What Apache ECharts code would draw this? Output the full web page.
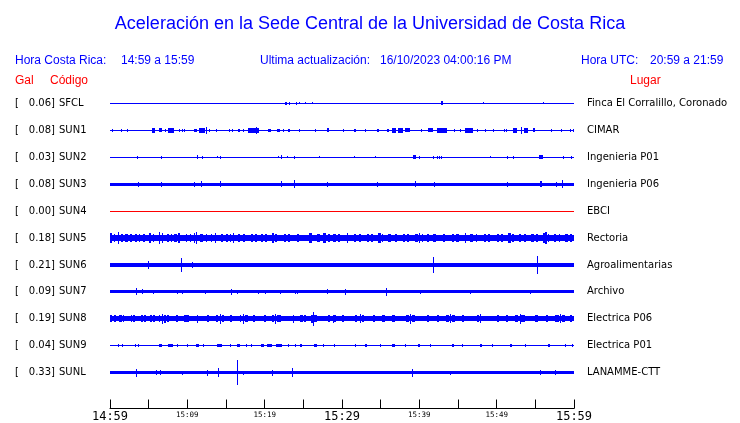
<!DOCTYPE html>
<html><head><meta charset="utf-8">
<script src="https://cdn.jsdelivr.net/npm/echarts@6/dist/echarts.min.js"></script>
<style>html,body{margin:0;padding:0;background:#fff}#c{width:740px;height:423px}</style>
</head><body><div id="c"></div>
<script>
// ---------------- DATA ----------------
const titleText = 'Aceleración en la Sede Central de la Universidad de Costa Rica';
const codes = ['SFCL','SUN1','SUN2','SUN3','SUN4','SUN5','SUN6','SUN7','SUN8','SUN9','SUNL'];
const peakGal = ['0.06','0.08','0.03','0.08','0.00','0.18','0.21','0.09','0.19','0.04','0.33'];
const places = ['Finca El Corralillo, Coronado','CIMAR','Ingenieria P01','Ingenieria P06','EBCI','Rectoria','Agroalimentarias','Archivo','Electrica P06','Electrica P01','LANAMME-CTT'];
// half-thickness of the background trace (Gal)
const baseGal = [0.0125,0.0125,0.0125,0.042,0.0125,0.08,0.042,0.042,0.068,0.0125,0.042];
// bursts: [startMinute, endMinute, halfAmplitudeGal]  (minutes after 14:59)
const bSFCL = [[22.6,22.9,0.03],[23.15,23.15,0.03],[24.0,24.2,0.03],[24.44,24.44,0.025],[25.2,25.2,0.025],[26.1,26.1,0.025],[26.9,26.9,0.02],[42.8,43.1,0.05],[48.23,48.23,0.025],[51.21,51.21,0.02],[55.99,55.99,0.025]];
const bSUN1 = [[0.26,0.26,0.035],[1.42,1.42,0.035],[2.2,2.2,0.035],[5.43,5.82,0.06],[6.34,6.72,0.05],[7.11,7.11,0.035],[7.5,8.28,0.06],[8.92,8.92,0.035],[9.31,9.31,0.03],[9.57,9.57,0.035],[10.86,11.25,0.045],[11.51,12.29,0.06],[12.41,12.41,0.09],[12.8,12.8,0.04],[13.71,13.71,0.035],[15.39,15.39,0.035],[15.78,15.78,0.035],[16.55,16.81,0.03],[17.2,17.33,0.035],[17.85,19.27,0.06],[18.9,18.9,0.08],[20.43,20.82,0.045],[21.6,21.98,0.045],[22.37,22.37,0.03],[23.02,23.28,0.04],[24.44,24.44,0.03],[26.5,26.7,0.04],[28.0,28.3,0.05],[30.1,30.1,0.035],[31.5,31.8,0.04],[33.0,33.0,0.035],[34.5,34.8,0.045],[35.82,35.82,0.035],[35.95,35.95,0.035],[36.47,36.98,0.06],[37.24,37.89,0.06],[38.15,38.79,0.05],[40.22,40.22,0.03],[41.12,41.77,0.05],[42.29,43.58,0.06],[44.49,44.49,0.035],[45.26,45.26,0.03],[45.91,46.94,0.06],[47.46,47.46,0.035],[48.49,48.49,0.035],[49.53,49.53,0.035],[50.95,50.95,0.035],[51.21,51.21,0.035],[52.11,52.63,0.06],[53.15,53.15,0.09],[53.54,54.06,0.07],[54.7,54.96,0.05],[57.03,57.03,0.03],[58.32,58.32,0.035],[59.48,59.48,0.035],[59.87,59.87,0.035]];
const bSUN2 = [[3.49,3.49,0.035],[6.6,6.6,0.035],[11.25,11.25,0.05],[11.9,11.9,0.035],[13.84,13.84,0.03],[14.22,14.22,0.035],[21.72,21.72,0.03],[22.11,22.11,0.05],[22.89,22.89,0.03],[23.79,23.79,0.035],[27.0,27.0,0.03],[31.5,31.5,0.03],[34.3,34.3,0.03],[39.18,39.57,0.05],[39.96,39.96,0.035],[41.77,41.77,0.035],[42.29,42.29,0.035],[42.55,42.55,0.035],[42.8,42.8,0.035],[49.14,49.14,0.03],[51.34,51.34,0.035],[52.11,52.11,0.035],[55.48,55.99,0.05],[58.58,58.58,0.035],[59.61,59.61,0.035]];
const bSUN3 = [[3.62,3.62,0.065],[6.6,6.6,0.065],[10.86,10.86,0.06],[11.77,11.77,0.07],[14.22,14.22,0.075],[22.11,22.11,0.075],[23.79,23.79,0.1],[28.0,28.0,0.06],[34.5,34.5,0.065],[39.44,39.44,0.075],[41.9,41.9,0.065],[51.34,51.34,0.06],[55.6,55.86,0.075],[57.67,57.67,0.06],[58.45,58.45,0.1]];
const bSUN4 = [];
const bSUN5 = [[0.0,0.3,0.12],[0.5,0.7,0.1],[1.08,1.08,0.15],[1.4,1.7,0.1],[2.0,2.3,0.11],[2.6,2.8,0.1],[3.2,3.5,0.1],[3.8,3.9,0.11],[4.3,4.5,0.1],[5.0,5.3,0.12],[5.5,5.7,0.11],[6.3,6.5,0.14],[6.7,6.9,0.12],[7.4,7.6,0.1],[7.9,8.0,0.11],[8.3,8.6,0.11],[8.8,9.1,0.13],[9.8,10.0,0.1],[10.3,10.4,0.1],[10.8,11.0,0.12],[11.1,11.3,0.15],[11.7,12.0,0.1],[12.4,12.6,0.1],[13.0,13.2,0.1],[13.58,13.58,0.13],[14.3,14.6,0.1],[15.0,15.2,0.1],[15.5,15.7,0.1],[15.86,15.86,0.13],[16.5,16.8,0.1],[17.2,17.5,0.1],[18.2,18.5,0.1],[18.8,19.0,0.1],[19.5,19.8,0.1],[20.1,20.3,0.1],[21.0,21.2,0.13],[21.3,21.6,0.11],[22.5,22.8,0.1],[23.0,23.3,0.1],[24.2,24.5,0.1],[25.7,26.1,0.12],[26.8,27.1,0.1],[27.6,27.9,0.12],[28.2,28.4,0.1],[28.9,29.2,0.1],[29.5,29.7,0.1],[30.61,30.61,0.12],[31.5,31.8,0.1],[32.2,32.4,0.1],[33.2,33.5,0.1],[33.8,34.0,0.1],[34.7,35.0,0.12],[35.2,35.3,0.11],[36.0,36.3,0.1],[36.8,37.1,0.1],[37.9,38.2,0.1],[38.4,38.6,0.1],[39.5,39.8,0.11],[40.0,40.1,0.13],[40.3,40.4,0.1],[41.0,41.3,0.1],[41.8,42.1,0.1],[43.0,43.3,0.1],[44.2,44.5,0.11],[44.8,45.1,0.1],[45.9,45.9,0.13],[46.6,46.9,0.1],[47.3,47.5,0.1],[48.3,48.6,0.1],[48.9,49.2,0.1],[50.0,50.3,0.1],[50.6,50.8,0.1],[51.5,51.8,0.12],[52.0,52.2,0.11],[52.9,53.2,0.1],[53.5,53.8,0.1],[54.5,54.8,0.1],[55.1,55.3,0.1],[56.0,56.2,0.12],[56.3,56.5,0.14],[56.6,56.7,0.11],[57.4,57.7,0.1],[58.0,58.2,0.1],[58.9,59.2,0.11],[59.5,59.8,0.1]];
const bSUN6 = [[1.68,1.68,0.06],[2.59,2.59,0.05],[4.91,4.91,0.1],[9.18,9.18,0.17],[10.6,10.6,0.07],[12.29,12.29,0.05],[12.67,12.67,0.05],[13.58,13.58,0.05],[17.72,17.72,0.05],[18.49,18.49,0.05],[19.0,19.0,0.05],[22.24,22.24,0.05],[23.54,23.54,0.05],[26.12,26.12,0.05],[27.16,27.16,0.05],[38.8,38.8,0.06],[41.77,41.77,0.21],[53.0,53.0,0.05],[55.2,55.2,0.23],[57.5,57.5,0.05]];
const bSUN7 = [[3.36,3.36,0.09],[4.14,4.14,0.065],[5.56,5.56,0.055],[8.66,8.66,0.05],[9.31,9.31,0.05],[12.29,12.29,0.05],[15.65,15.65,0.07],[16.42,16.42,0.05],[19.14,19.14,0.05],[20.04,20.04,0.05],[21.98,21.98,0.05],[23.92,23.92,0.05],[24.18,24.18,0.05],[28.06,28.06,0.06],[30.39,30.39,0.07],[35.7,35.7,0.1],[40.1,40.1,0.05],[46.55,46.55,0.05],[54.3,54.3,0.05]];
const bSUN8 = [[0.0,0.3,0.09],[0.5,0.8,0.085],[1.2,1.5,0.085],[1.7,1.8,0.09],[2.7,2.9,0.09],[3.0,3.2,0.085],[4.0,4.3,0.085],[4.4,4.6,0.09],[5.2,5.4,0.09],[5.6,5.8,0.085],[6.3,6.5,0.09],[6.72,6.72,0.13],[7.0,7.2,0.1],[7.4,7.6,0.09],[8.5,8.8,0.085],[9.6,9.9,0.09],[10.0,10.2,0.085],[11.25,11.25,0.1],[12.5,12.8,0.085],[13.7,14.0,0.09],[14.22,14.22,0.13],[14.5,14.8,0.09],[15.5,15.8,0.085],[16.8,17.0,0.09],[17.2,17.2,0.13],[17.4,17.8,0.09],[18.5,18.8,0.085],[19.9,20.2,0.085],[21.0,21.2,0.09],[21.34,21.34,0.13],[21.6,22.1,0.09],[23.66,23.66,0.1],[24.6,24.9,0.085],[25.1,25.4,0.085],[26.0,26.2,0.1],[26.25,26.25,0.17],[26.4,26.8,0.09],[28.2,28.5,0.09],[28.84,28.84,0.1],[29.0,29.2,0.09],[30.0,30.3,0.085],[31.7,32.0,0.09],[32.3,32.3,0.11],[32.6,32.9,0.09],[34.0,34.3,0.085],[35.2,35.5,0.085],[36.5,36.8,0.085],[38.3,38.6,0.09],[38.8,38.8,0.13],[39.1,39.5,0.09],[41.0,41.3,0.085],[42.3,42.6,0.085],[43.4,43.8,0.09],[43.97,43.97,0.11],[44.2,44.6,0.09],[45.5,45.8,0.085],[47.5,47.7,0.09],[47.85,47.85,0.11],[50.0,50.3,0.085],[51.2,51.5,0.085],[52.4,52.8,0.09],[53.02,53.02,0.12],[53.2,53.6,0.09],[55.0,55.3,0.085],[56.4,56.7,0.085],[57.6,58.0,0.09],[58.19,58.19,0.11],[58.4,58.8,0.09],[59.5,59.8,0.085]];
const bSUN9 = [[1.03,1.03,0.035],[1.55,1.55,0.035],[3.23,3.23,0.035],[3.62,3.62,0.035],[6.34,6.72,0.04],[7.5,8.15,0.04],[8.66,8.66,0.035],[9.96,9.96,0.035],[11.12,11.51,0.04],[12.03,12.03,0.035],[13.84,14.48,0.04],[15.52,15.52,0.035],[16.42,16.81,0.04],[17.59,17.59,0.035],[18.23,18.23,0.035],[19.53,19.91,0.04],[20.3,20.95,0.04],[21.47,22.24,0.04],[23.02,23.02,0.035],[23.92,23.92,0.035],[24.57,24.83,0.04],[26.38,26.77,0.04],[27.54,27.54,0.035],[28.97,28.97,0.035],[31.68,31.68,0.035],[32.98,33.2,0.04],[34.91,34.91,0.035],[36.47,36.8,0.04],[38.15,38.15,0.035],[39.83,40.1,0.04],[41.38,41.38,0.035],[44.23,44.5,0.04],[45.52,45.52,0.035],[47.85,48.1,0.04],[49.4,49.4,0.035],[51.73,52.0,0.04],[53.67,53.67,0.035],[56.64,56.9,0.04],[58.84,58.84,0.035],[59.74,59.74,0.035]];
const bSUNL = [[3.36,3.36,0.1],[5.95,5.95,0.06],[6.47,6.47,0.06],[9.31,9.31,0.05],[12.54,12.54,0.075],[13.97,13.97,0.12],[16.42,16.42,0.31],[17.2,17.2,0.05],[20.95,20.95,0.075],[23.54,23.54,0.12],[39.05,39.05,0.1],[43.97,43.97,0.05],[55.6,55.6,0.07],[57.5,57.5,0.07]];
const burstsByStation = [bSFCL,bSUN1,bSUN2,bSUN3,bSUN4,bSUN5,bSUN6,bSUN7,bSUN8,bSUN9,bSUNL];
const traceColors = ['#0000ff','#0000ff','#0000ff','#0000ff','#ff0000','#0000ff','#0000ff','#0000ff','#0000ff','#0000ff','#0000ff'];
const tickMinutes = [0,10,20,30,40,50,60];
const tickLabels = ['14:59','15:09','15:19','15:29','15:39','15:49','15:59'];
const majorTicks = [0,30,60];

// ---------------- STYLE ----------------
const PX_PER_GAL = 40, ROW_PX = 27;
const ROWS_PER_GAL = PX_PER_GAL / ROW_PX;
const BLUE = '#0000ff', RED = '#ff0000';

const chart = echarts.init(document.getElementById('c'), null, {renderer:'canvas'});

function renderItem(params, api) {
  const s = api.value(0), e = api.value(1), row = api.value(2), amp = api.value(3);
  const h = amp * ROWS_PER_GAL;
  const pa = api.coord([s, row - h]);
  const pb = api.coord([e, row + h]);
  let x0 = Math.round(pa[0]), x1 = Math.round(pb[0]);
  if (x1 - x0 < 1) x1 = x0 + 1;
  let y0 = Math.round(Math.min(pa[1], pb[1])), y1 = Math.round(Math.max(pa[1], pb[1]));
  if (y1 - y0 < 1) y1 = y0 + 1;
  return {type:'rect', shape:{x:x0, y:y0, width:x1-x0, height:y1-y0}, style:{fill: api.visual('color')}};
}

const series = codes.map((c, i) => ({
  type:'custom', name:c, renderItem, silent:true, animation:false,
  itemStyle:{color: traceColors[i]},
  encode:{x:[0,1], y:2},
  data: [[0, 60, i, baseGal[i]]].concat(burstsByStation[i].map(b => [b[0], b[1], i, b[2]]))
}));

// 11 rows of 27px: row centres at 103.5 + 27*i ; grid from 90 to 387, axis line offset to 409.5
chart.setOption({
  animation:false,
  backgroundColor:'#fff',
  title:{text:titleText, left:'center', top:10, textStyle:{color:BLUE, fontSize:18, fontWeight:'normal', fontFamily:'Liberation Sans'}},
  grid:{left:110, right:166, top:90, bottom:36, containLabel:false},
  xAxis:{type:'value', min:0, max:60, interval:5, position:'bottom', offset:22.5,
    axisLine:{show:true, onZero:false, lineStyle:{color:'#000', width:1}},
    axisTick:{show:true, inside:true, length:9, lineStyle:{color:'#000'}},
    splitLine:{show:false},
    axisLabel:{margin:2, showMinLabel:true, showMaxLabel:true, hideOverlap:false,
      formatter: v => { const k = tickMinutes.indexOf(v); if (k < 0) return ''; return (majorTicks.indexOf(v) >= 0 ? '{b|' : '{s|') + tickLabels[k] + '}'; },
      rich:{ b:{fontFamily:'DejaVu Sans Mono', fontSize:12, color:'#000', lineHeight:13},
             s:{fontFamily:'DejaVu Sans Mono', fontSize:7.5, color:'#000', lineHeight:9} } }
  },
  yAxis:{type:'value', min:-0.5, max:10.5, inverse:true, show:false},
  series
});

// labels positioned from the y scale
const F_HDR = 'Liberation Sans', F_LBL = 'DejaVu Sans';
const g = [];
function txt(x, y, text, color, size, family, align) {
  g.push({type:'text', x, y, silent:true, style:{text, fill:color, fontSize:size, fontFamily:family, align:align||'left', verticalAlign:'middle'}});
}
txt(15, 60.5, 'Hora Costa Rica:', BLUE, 12, F_HDR);
txt(121, 60.5, '14:59 a 15:59', BLUE, 12, F_HDR);
txt(260, 60.5, 'Ultima actualización:', BLUE, 12, F_HDR);
txt(380, 60.5, '16/10/2023 04:00:16 PM', BLUE, 12, F_HDR);
txt(581, 60.5, 'Hora UTC:', BLUE, 12, F_HDR);
txt(650, 60.5, '20:59 a 21:59', BLUE, 12, F_HDR);
txt(15, 80.5, 'Gal', RED, 12, F_HDR);
txt(50, 80.5, 'Código', RED, 12, F_HDR);
txt(630, 80.5, 'Lugar', RED, 12, F_HDR);
codes.forEach((c, i) => {
  const y = chart.convertToPixel({gridIndex:0}, [0, i])[1];
  txt(15, y, '[', '#000', 10, F_LBL);
  txt(55, y, peakGal[i] + ']', '#000', 10, F_LBL, 'right');
  txt(59, y, c, '#000', 10, F_LBL);
  txt(587, y, places[i], '#000', 10, F_LBL);
});
chart.setOption({graphic:g});
</script></body></html>
